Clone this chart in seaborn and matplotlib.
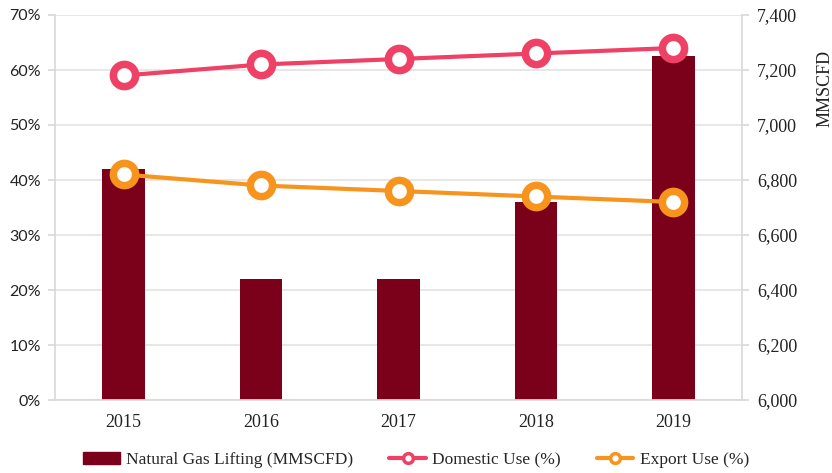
import matplotlib
matplotlib.use("Agg")
import matplotlib.pyplot as plt
import seaborn as sns
import pandas as pd
from matplotlib.ticker import FuncFormatter, MultipleLocator
from matplotlib.patches import Patch
from matplotlib.lines import Line2D

years = ["2015", "2016", "2017", "2018", "2019"]
lifting = [6840, 6440, 6440, 6720, 7250]
domestic = [59, 61, 62, 63, 64]
export = [41, 39, 38, 37, 36]

bar_color = "#7B0019"
dom_color = "#EF4065"
exp_color = "#F7941D"
grid_color = "#E3E3E3"

sns.set_theme(style="white")
plt.rcParams["font.family"] = ["Liberation Serif", "DejaVu Serif"]

df = pd.DataFrame({"Year": years, "Lifting": lifting,
                   "Domestic": domestic, "Export": export})

fig = plt.figure(figsize=(8.32, 4.73), dpi=100)
ax2 = fig.add_axes([55/832, 1 - 400/473, (742-55)/832, 385/473])
ax = ax2.twinx()

# bars on right axis (ax2 drawn underneath)
sns.barplot(data=df, x="Year", y="Lifting", color=bar_color, width=0.31,
            saturation=1, linewidth=0, ax=ax2, zorder=2)
ax2.set_ylim(6000, 7400)
ax2.yaxis.set_major_locator(MultipleLocator(200))
ax2.yaxis.set_major_formatter(FuncFormatter(lambda v, p: f"{int(v):,}"))
ax2.yaxis.tick_right()
ax2.yaxis.set_label_position("right")
ax2.grid(axis="y", color=grid_color, linewidth=1.2, zorder=0)
ax2.set_axisbelow(True)
ax2.set_xlabel("")
ax2.set_ylabel("MMSCFD", fontsize=13, rotation=90, color="#222222")
ax2.yaxis.set_label_coords(1.108, 0.81)

# lines on left axis
sns.lineplot(data=df, x="Year", y="Domestic", color=dom_color, linewidth=3,
             marker="o", markersize=16, markerfacecolor="white",
             markeredgecolor=dom_color, markeredgewidth=5.4, ax=ax, zorder=5)
sns.lineplot(data=df, x="Year", y="Export", color=exp_color, linewidth=3,
             marker="o", markersize=16, markerfacecolor="white",
             markeredgecolor=exp_color, markeredgewidth=5.4, ax=ax, zorder=5)
ax.set_ylim(0, 70)
ax.yaxis.set_major_locator(MultipleLocator(10))
ax.yaxis.set_major_formatter(FuncFormatter(lambda v, p: f"{int(v)}%"))
ax.yaxis.tick_left()
ax.yaxis.set_label_position("left")
ax.set_ylabel("")
ax.set_xlabel("")
ax.set_xlim(-0.5, 4.5)
ax2.set_xlim(-0.5, 4.5)

for a in (ax, ax2):
    for s in a.spines.values():
        s.set_visible(False)
    a.tick_params(axis="both", labelsize=13, colors="#222222", length=0)
ax.spines["left"].set_visible(True)
ax.spines["left"].set_color("#D9D9D9")
ax.spines["right"].set_visible(True)
ax.spines["right"].set_color("#D9D9D9")
ax.spines["bottom"].set_visible(True)
ax.spines["bottom"].set_color("#D9D9D9")
ax.tick_params(axis="y", length=5, color="#D9D9D9", pad=5, labelsize=11.5)
for lab in ax.get_yticklabels():
    lab.set_fontfamily(["Lato", "DejaVu Sans"])
ax2.tick_params(axis="y", length=5, color="#D9D9D9", pad=6, right=True)
ax2.tick_params(axis="x", pad=10)

handles = [
    Patch(facecolor=bar_color, edgecolor=bar_color),
    Line2D([0], [0], color=dom_color, linewidth=3, marker="o", markersize=7,
           markerfacecolor="white", markeredgecolor=dom_color, markeredgewidth=2.5),
    Line2D([0], [0], color=exp_color, linewidth=3, marker="o", markersize=7,
           markerfacecolor="white", markeredgecolor=exp_color, markeredgewidth=2.5),
]
labels = ["Natural Gas Lifting (MMSCFD)", "Domestic Use (%)", "Export Use (%)"]
fig.legend(handles, labels, loc="center", bbox_to_anchor=(0.5, 1 - 460/473),
           ncol=3, frameon=False, fontsize=12.5, handlelength=2.1,
           columnspacing=2.1, handletextpad=0.35)

fig.savefig("out.png", dpi=100)
